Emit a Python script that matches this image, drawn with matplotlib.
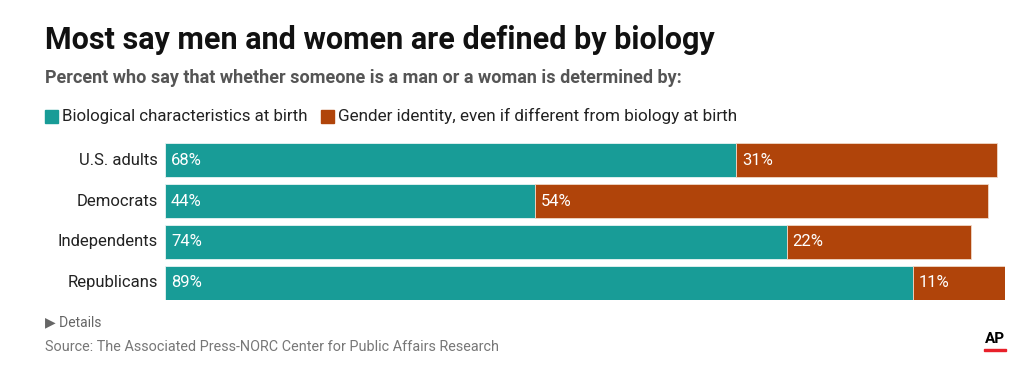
import matplotlib.pyplot as plt
import numpy as np

# data
groups = ["U.S. adults", "Democrats", "Independents", "Republicans"]
biology = [68, 44, 74, 89]
identity = [31, 54, 22, 11]

teal = "#189c97"
rust = "#b0440a"

W, H = 1024, 373
fig = plt.figure(figsize=(W / 100, H / 100), dpi=100)
plt.rcParams["font.family"] = ["Roboto", "DejaVu Sans"]


def px(x, y):
    return x / W, 1 - y / H


# axes placed in pixel space
left, right, top, bottom = 165, 1005, 143, 300
ax = fig.add_axes([left / W, 1 - bottom / H, (right - left) / W, (bottom - top) / H])
y = np.arange(len(groups))
ax.barh(y, biology, height=0.83, color=teal, edgecolor="#e8f4f3", linewidth=0.6)
ax.barh(y, identity, left=biology, height=0.83, color=rust, edgecolor="#f0d8c8", linewidth=0.6)
ax.set_xlim(0, 100)
ax.set_ylim(3.415, -0.415)
ax.axis("off")

for i in range(len(groups)):
    ax.text(-0.85, i, groups[i], ha="right", va="center", fontsize=12, color="#222222")
    ax.text(0.7, i, f"{biology[i]}%", ha="left", va="center", fontsize=12, color="white")
    ax.text(biology[i] + 0.7, i, f"{identity[i]}%", ha="left", va="center", fontsize=12, color="white")

# header
fig.text(*px(45, 40), "Most say men and women are defined by biology", fontsize=22,
         fontweight="bold", color="#111111", va="center")
fig.text(*px(45, 78), "Percent who say that whether someone is a man or a woman is determined by:",
         fontsize=13, fontweight="bold", color="#555555", va="center")

# legend
fig.patches.append(plt.Rectangle(px(45, 123), 13 / W, 13 / H, transform=fig.transFigure,
                                 color=teal, figure=fig))
fig.text(*px(62, 116), "Biological characteristics at birth", fontsize=12.2, color="#222222", va="center")
fig.patches.append(plt.Rectangle(px(321, 123), 13 / W, 13 / H, transform=fig.transFigure,
                                 color=rust, figure=fig))
fig.text(*px(338, 116), "Gender identity, even if different from biology at birth", fontsize=12.3,
         color="#222222", va="center")

# footer
fig.text(*px(45, 322), "\u25b6 Details", fontsize=10, color="#666666", va="center")
fig.text(*px(45, 347), "Source: The Associated Press-NORC Center for Public Affairs Research",
         fontsize=10.4, color="#777777", va="center")
fig.text(*px(995, 339), "AP", fontsize=11, fontweight="bold", color="black", ha="center", va="center")
fig.patches.append(plt.Rectangle(px(984, 351), 22 / W, 2.5 / H, transform=fig.transFigure,
                                 color="#e8202a", figure=fig))

fig.savefig("out.png", dpi=100, facecolor="white")
